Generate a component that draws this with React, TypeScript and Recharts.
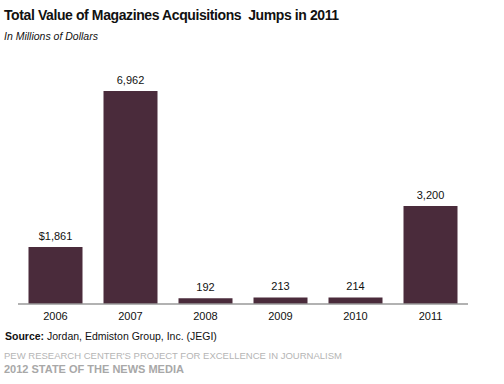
import React from "react";
import { BarChart, Bar, XAxis, YAxis, LabelList } from "recharts";

const years = ["2006", "2007", "2008", "2009", "2010", "2011"];
const values = [1861, 6962, 192, 213, 214, 3200];
const valueLabels = ["$1,861", "6,962", "192", "213", "214", "3,200"];

const data = years.map((y, i) => ({ year: y, value: values[i], label: valueLabels[i] }));

const FONT = "Arial, 'Liberation Sans', sans-serif";

export default function App() {
  return (
    <div style={{ position: "absolute", left: 0, top: 0, width: 504, height: 384, background: "#fff", fontFamily: FONT }}>
      <div style={{ position: "absolute", left: 4, top: 7, fontSize: 14, letterSpacing: -0.4, fontWeight: "bold", color: "#111", whiteSpace: "pre" }}>
        {"Total Value of Magazines Acquisitions  Jumps in 2011"}
      </div>
      <div style={{ position: "absolute", left: 4, top: 30, fontSize: 10.5, fontStyle: "italic", color: "#111" }}>
        In Millions of Dollars
      </div>
      <BarChart
        width={504}
        height={384}
        data={data}
        margin={{ top: 91, right: 36, bottom: 50, left: 18 }}
        barCategoryGap="14%"
      >
        <XAxis
          dataKey="year"
          height={30}
          tickLine={false}
          axisLine={{ stroke: "#999", strokeWidth: 1.5 }}
          tick={{ fontSize: 11, fill: "#111", fontFamily: FONT }}
          interval={0}
        />
        <YAxis hide domain={[0, 6962]} width={0} />
        <Bar dataKey="value" fill="#4a2b3b" isAnimationActive={false}>
          <LabelList dataKey="label" position="top" offset={7} style={{ fontSize: 11, fill: "#111", fontFamily: FONT }} />
        </Bar>
      </BarChart>
      <div style={{ position: "absolute", left: 5, top: 330, fontSize: 10.5, color: "#111", whiteSpace: "pre" }}>
        <b>Source:</b> Jordan, Edmiston Group, Inc. (JEGI)
      </div>
      <div style={{ position: "absolute", left: 4, top: 350, fontSize: 9.5, color: "#b5b5b5", whiteSpace: "pre" }}>
        PEW RESEARCH CENTER'S PROJECT FOR EXCELLENCE IN JOURNALISM
      </div>
      <div style={{ position: "absolute", left: 4, top: 363, fontSize: 11, fontWeight: "bold", color: "#a8a8a8", whiteSpace: "pre" }}>
        2012 STATE OF THE NEWS MEDIA
      </div>
    </div>
  );
}
